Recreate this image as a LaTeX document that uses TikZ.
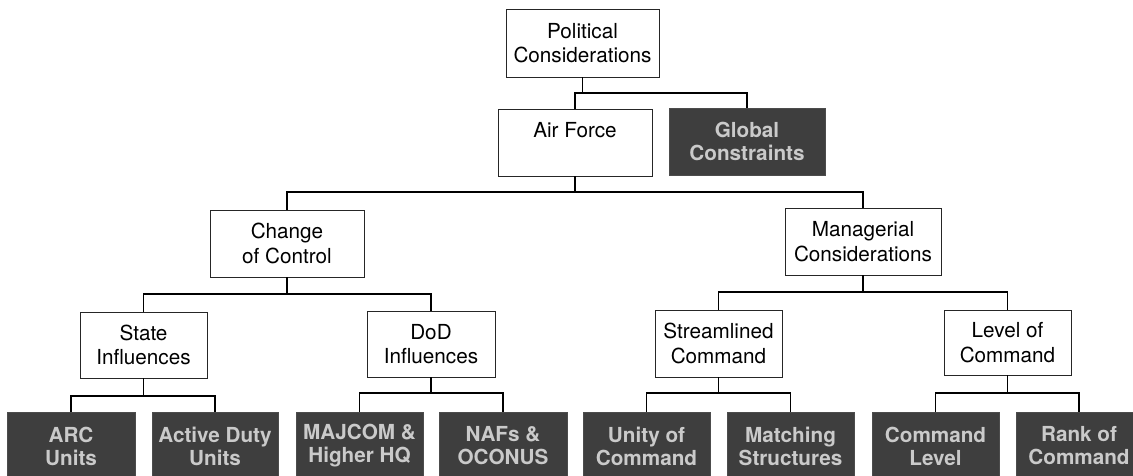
\documentclass[tikz,border=0pt]{standalone}
\usepackage{fontspec}
\setmainfont{TeX Gyre Heros}
\definecolor{darkfill}{HTML}{3E3E3E}
\definecolor{darktext}{HTML}{CACACA}
\begin{document}
\begin{tikzpicture}[x=1pt,y=-1pt,
  box/.style={draw=black!85, line width=0.9pt, fill=white, align=center, inner sep=0pt,
    font=\fontsize{20.7}{24.5}\selectfont},
  darkbox/.style={draw=black!70, line width=0.9pt, fill=darkfill, text=darktext, align=center,
    inner sep=0pt, font=\fontsize{20.7}{23}\selectfont\bfseries},
  link/.style={line width=1.7pt, black}]
\useasboundingbox (0,0) rectangle (1133,476);

% level 0
\node[box, minimum width=153pt, minimum height=68pt] (pol) at (582.5,43) {Political\\Considerations};
% level 1
\node[box, minimum width=154pt, minimum height=67pt] (af) at (575,142.5) {Air Force\\\mbox{}};
\node[darkbox, minimum width=156pt, minimum height=67pt] (gc) at (747,141.5) {Global\\Constraints};
% level 2
\node[box, minimum width=154pt, minimum height=67pt] (cc) at (287,243.5) {Change\\of Control};
\node[box, minimum width=156pt, minimum height=67pt] (mc) at (863,241.5) {Managerial\\Considerations};
% level 3
\node[box, minimum width=127pt, minimum height=66pt] (si) at (143.5,345) {State\\Influences};
\node[box, minimum width=128pt, minimum height=66pt] (dod) at (431,344) {DoD\\Influences};
\node[box, minimum width=127pt, minimum height=67pt] (sc) at (718.5,343.5) {Streamlined\\Command};
\node[box, minimum width=127pt, minimum height=65pt] (lc) at (1007.5,342.5) {Level of\\Command};
% level 4
\node[darkbox, minimum width=128pt, minimum height=68pt] (arc) at (71,446) {ARC\\Units};
\node[darkbox, minimum width=126pt, minimum height=68pt] (adu) at (215,446) {Active Duty\\Units};
\node[darkbox, minimum width=127pt, minimum height=68pt] (maj) at (359.5,446) {MAJCOM \&\\Higher HQ};
\node[darkbox, minimum width=128pt, minimum height=68pt] (naf) at (503,446) {NAFs \&\\OCONUS};
\node[darkbox, minimum width=127pt, minimum height=68pt] (uoc) at (646.5,446) {Unity of\\Command};
\node[darkbox, minimum width=127pt, minimum height=68pt] (ms) at (790.5,446) {Matching\\Structures};
\node[darkbox, minimum width=127pt, minimum height=68pt] (cl) at (935.5,446) {Command\\Level};
\node[darkbox, minimum width=126pt, minimum height=68pt] (roc) at (1079,446) {Rank of\\Command};

% junctions
\coordinate (j0) at (582.5,93);
\coordinate (j1) at (575,192);
\coordinate (j2) at (287,294);
\coordinate (j3) at (863,292);
\coordinate (j4) at (143.5,396);
\coordinate (j5) at (431,393);
\coordinate (j6) at (718.5,393);
\coordinate (j7) at (1007.5,393);

% connectors
\draw[link] (pol.south) -- (j0);
\draw[link] (af.north) |- (j0) -| (gc.north);
\draw[link] (af.south) -- (j1);
\draw[link] (cc.north) |- (j1) -| (mc.north);
\draw[link] (cc.south) -- (j2);
\draw[link] (si.north) |- (j2) -| (dod.north);
\draw[link] (mc.south) -- (j3);
\draw[link] (sc.north) |- (j3) -| (lc.north);
\draw[link] (si.south) -- (j4);
\draw[link] (arc.north) |- (j4) -| (adu.north);
\draw[link] (dod.south) -- (j5);
\draw[link] (maj.north) |- (j5) -| (naf.north);
\draw[link] (sc.south) -- (j6);
\draw[link] (uoc.north) |- (j6) -| (ms.north);
\draw[link] (lc.south) -- (j7);
\draw[link] (cl.north) |- (j7) -| (roc.north);
\end{tikzpicture}
\end{document}
